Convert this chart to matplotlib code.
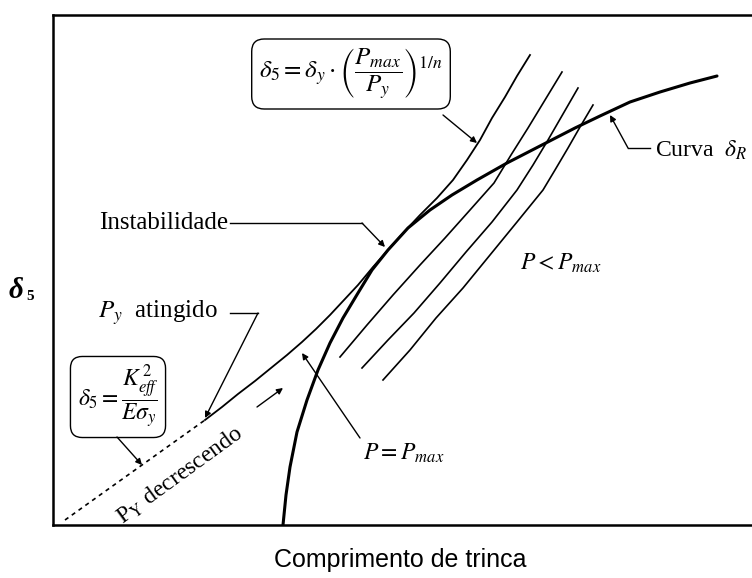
import matplotlib
matplotlib.use("Agg")
import matplotlib.pyplot as plt

plt.rcParams["font.family"] = ["Liberation Serif", "DejaVu Serif"]
plt.rcParams["mathtext.fontset"] = "stix"

# ── Curves (crack length a, CTOD delta_5), arbitrary units ───────────────────
# R-curve (delta_R)
r_a = [230, 233, 237, 244, 254, 265, 277, 290, 305, 319, 335, 355, 377, 399,
       424, 454, 487, 522, 547, 577, 607, 637, 664]
r_d = [0, 30, 58, 93, 125, 155, 182, 207, 232, 255, 275, 297, 315, 330,
       345, 362, 379, 397, 409, 423, 433, 442, 449]

# driving force at P = Pmax (tangent to the R-curve)
pmax_a = [152, 169, 185, 202, 218, 234, 249, 263, 277, 291, 305, 320, 335,
          351, 367, 384, 400, 414, 427, 439, 452, 464, 477]
pmax_d = [105, 118, 131, 144, 157, 170, 183, 196, 210, 225, 240, 258, 275,
          293, 310, 327, 345, 365, 385, 407, 428, 449, 470]

# small-scale yielding branch, below P_y (dashed)
ssy_a = [12, 152]
ssy_d = [5, 105]

# driving force curves for P < Pmax
low_a = [
    [287, 314, 340, 367, 392, 417, 441, 458, 475, 492, 509],
    [309, 335, 361, 387, 413, 439, 464, 480, 495, 510, 525],
    [330, 357, 383, 410, 437, 464, 490, 502, 515, 527, 540],
]
low_d = [
    [168, 200, 230, 260, 287, 315, 342, 370, 397, 425, 453],
    [157, 185, 212, 242, 273, 303, 335, 360, 385, 411, 437],
    [145, 175, 207, 237, 270, 303, 335, 355, 377, 398, 420],
]

fig = plt.figure(figsize=(7.52, 5.78), dpi=100)
ax = fig.add_axes([53 / 752, 53 / 578, 699 / 752, 510 / 578])
ax.set_xlim(0, 699)
ax.set_ylim(0, 510)
ax.set_xticks([])
ax.set_yticks([])
ax.spines["right"].set_visible(False)
for s in ("left", "top", "bottom"):
    ax.spines[s].set_linewidth(1.8)

ax.plot(r_a, r_d, color="black", lw=2.2, solid_capstyle="round",
        solid_joinstyle="round")
ax.plot(pmax_a, pmax_d, color="black", lw=1.3, solid_joinstyle="round")
ax.plot(ssy_a, ssy_d, color="black", lw=1.2, ls=(0, (2.5, 2.5)))
for xs, ys in zip(low_a, low_d):
    ax.plot(xs, ys, color="black", lw=1.2, solid_joinstyle="round")

arrow = dict(arrowstyle="-|>", color="black", lw=1.0, mutation_scale=9,
             shrinkA=0, shrinkB=0)

# Instabilidade
ax.text(175, 302, "Instabilidade", ha="right", va="center", fontsize=18)
ax.plot([177, 309], [302, 302], color="black", lw=1.0)
ax.annotate("", xy=(332, 278), xytext=(309, 302), arrowprops=arrow)

# P_y atingido
ax.text(165, 212, r"$P_y$  atingido", ha="right", va="center", fontsize=18)
ax.plot([177, 205], [212, 212], color="black", lw=1.0)
ax.annotate("", xy=(152, 107), xytext=(205, 212), arrowprops=arrow)

# small-scale yielding formula
ax.text(65, 128, r"$\delta_5=\dfrac{K_{eff}^{\,2}}{E\sigma_y}$", ha="center",
        va="center", fontsize=17,
        bbox=dict(boxstyle="round,pad=0.3,rounding_size=0.5", fc="white",
                  ec="black", lw=1.0))
ax.annotate("", xy=(89, 60), xytext=(64, 88), arrowprops=arrow)

# P_Y decrescendo
ax.text(127, 50, r"P$_{\rm Y}$ decrescendo", ha="center", va="center",
        fontsize=17, rotation=36, rotation_mode="anchor")
ax.annotate("", xy=(230, 137), xytext=(204, 118), arrowprops=arrow)

# P = Pmax
ax.text(310, 72, r"$P = P_{max}$", ha="left", va="center", fontsize=17)
ax.annotate("", xy=(249, 172), xytext=(307, 87), arrowprops=arrow)

# P < Pmax
ax.text(467, 262, r"$P < P_{max}$", ha="left", va="center", fontsize=17)

# contained yielding formula
ax.text(298, 451,
        r"$\delta_5=\delta_y\cdot\left(\dfrac{P_{max}}{P_y}\right)^{1/n}$",
        ha="center", va="center", fontsize=18,
        bbox=dict(boxstyle="round,pad=0.3,rounding_size=0.5", fc="white",
                  ec="black", lw=1.0))
ax.annotate("", xy=(424, 382), xytext=(390, 410), arrowprops=arrow)

# Curva delta_R
ax.text(602, 375, r"Curva  $\delta_R$", ha="left", va="center", fontsize=17)
ax.plot([597, 575], [377, 377], color="black", lw=1.0)
ax.annotate("", xy=(557, 410), xytext=(575, 377), arrowprops=arrow)

# axis labels
fig.text(23 / 752, 1 - 290 / 578, "\u03b4", ha="right", va="center",
         fontsize=21, fontweight="bold", fontstyle="italic")
fig.text(26 / 752, 1 - 297 / 578, "5", ha="left", va="center",
         fontsize=11, fontweight="bold")
fig.text(400 / 752, 1 - 560 / 578, "Comprimento de trinca", ha="center",
         va="center", fontsize=18, family="Liberation Sans")

fig.savefig("out.png", dpi=100, facecolor="white")
